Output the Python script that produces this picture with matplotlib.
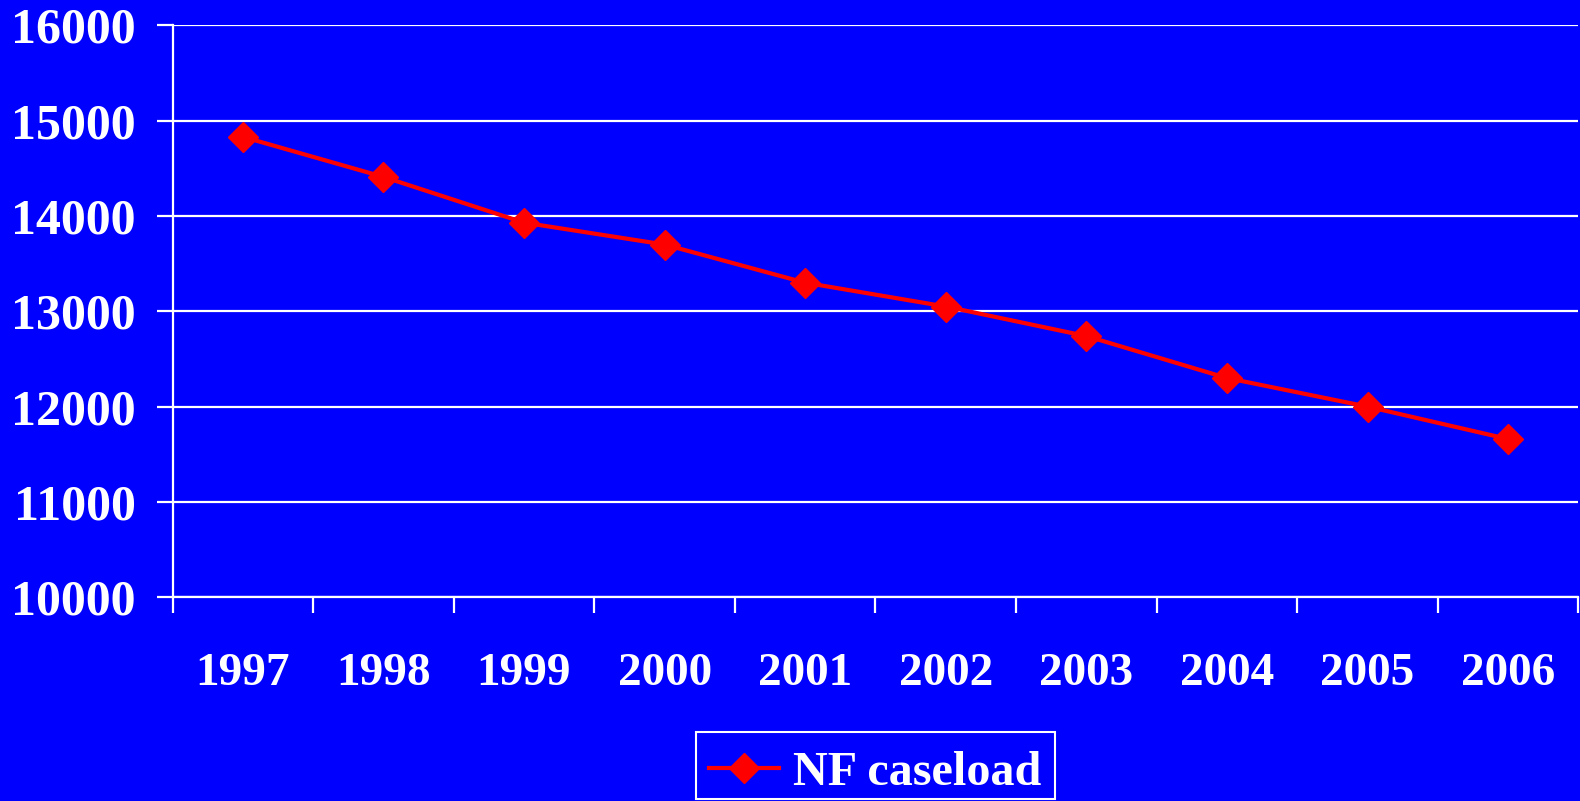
import numpy as np
import matplotlib
matplotlib.use("Agg")
import matplotlib.pyplot as plt
from matplotlib.ticker import FixedLocator
from matplotlib.patches import Rectangle

years = ["1997", "1998", "1999", "2000", "2001", "2002", "2003", "2004", "2005", "2006"]
caseload = [14830, 14410, 13930, 13700, 13300, 13050, 12740, 12300, 12000, 11660]
y_ticks = [10000, 11000, 12000, 13000, 14000, 15000, 16000]

blue = "#0000FF"
red = "#FF0000"
W, H = 1580, 801

plt.rcParams['font.family'] = ['Liberation Serif', 'DejaVu Serif']
plt.rcParams['font.weight'] = 'bold'

fig = plt.figure(figsize=(W / 100, H / 100), dpi=100, facecolor=blue)
ax = fig.add_axes([172.5 / W, 1 - 597.3 / H, 1 - 172.5 / W - 0.001, (597.3 - 25.3) / H])
ax.set_facecolor(blue)

x = np.arange(len(years))
ax.plot(x, caseload, color=red, lw=3, marker='D', ms=15, mfc=red, mec=red,
        label="NF caseload", clip_on=False, zorder=3)

ax.set_xlim(-0.5, len(years) - 0.5)
ax.set_ylim(10000, 16000)

# y axis
ax.set_yticks(y_ticks)
ax.set_yticklabels([str(v) for v in y_ticks])
ax.yaxis.grid(True, color='white', lw=1.6)
ax.tick_params(axis='y', colors='white', length=11.5, width=1.6, pad=15,
               labelsize=36, direction='out')

# x axis: labels at centers, ticks at category boundaries
ax.set_xticks(x)
ax.set_xticklabels(years)
ax.xaxis.set_minor_locator(FixedLocator(np.arange(-0.5, len(years), 1.0)))
ax.tick_params(axis='x', which='major', length=0, pad=40, labelsize=34, colors='white')
ax.tick_params(axis='x', which='minor', length=11.5, width=1.6, color='white')

for s in ['top', 'right']:
    ax.spines[s].set_visible(False)
for s in ['left', 'bottom']:
    ax.spines[s].set_color('white')
    ax.spines[s].set_linewidth(1.6)

for lbl in ax.get_xticklabels() + ax.get_yticklabels():
    lbl.set_fontweight('bold')

# legend box drawn separately so the text sits like the original
fig.add_artist(Rectangle((696 / W, 1 - 799 / H), (1055 - 696) / W, (799 - 731.5) / H,
                         transform=fig.transFigure, facecolor='none',
                         edgecolor='white', lw=1.5))
leg = fig.legend(loc='center', bbox_to_anchor=(875 / W, 1 - 773 / H),
                 borderaxespad=0, borderpad=0, frameon=False,
                 handlelength=1.45, handletextpad=0.3, numpoints=1,
                 prop={'weight': 'bold', 'size': 34.7})
for t in leg.get_texts():
    t.set_color('white')

fig.savefig("out.png", dpi=100, facecolor=blue)
